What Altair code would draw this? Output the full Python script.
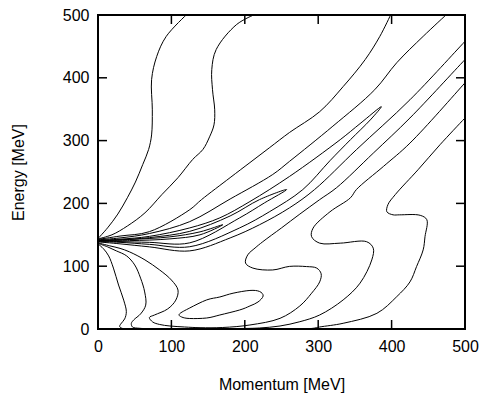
import altair as alt
import pandas as pd

TICKS = [0, 100, 200, 300, 400, 500]

# Contour lines: (momentum [MeV], energy [MeV])
U1 = [(0, 144), (13, 161), (27, 183), (40, 209), (51, 234), (61, 262), (69, 286),
      (73, 309), (74, 349), (73, 397), (80, 434), (93, 466), (121, 501)]
U2 = [(0, 143.5), (19, 150), (40, 164), (64, 185), (87, 214), (109, 241), (129, 270),
      (143, 286), (152, 306), (158, 325), (159, 349), (156, 381), (155, 413), (161, 445),
      (189, 485), (214, 501)]
U3 = [(0, 142.7), (30, 148), (70, 155), (125, 190), (141, 206), (180, 241), (207, 265),
      (234, 289), (261, 313), (302, 346), (334, 386), (364, 429), (384, 466), (399, 501)]
U4 = [(0, 142), (30, 145), (70, 152), (125, 171), (180, 207), (238, 246), (261, 267),
      (320, 323), (377, 381), (407, 424), (443, 466), (475, 501)]
L4 = [(0, 138.8), (30, 135.6), (70, 130.8), (125, 124.4), (180, 145), (220, 166),
      (261, 193), (295, 222), (352, 285.5), (425, 365), (500, 458), (510, 470)]
T5 = [(0, 141.2), (30, 143), (70, 147.5), (125, 161), (166, 177), (207, 203), (261, 243),
      (330, 301.5), (357, 327), (386, 354),
      (371, 333), (344, 301.5), (316, 268), (279, 222), (234, 187), (193, 161),
      (125, 131), (70, 134.8), (30, 138), (0, 139.2)]
T6 = [(0, 140.7), (30, 142), (70, 145.5), (125, 155.5), (180, 180), (220, 206), (257, 222),
      (227, 201), (193, 177), (125, 137.2), (70, 138), (30, 139.2), (0, 140.1)]
T7 = [(0, 140.4), (43, 142.5), (98, 146.7), (139, 154.7), (170, 166),
      (139, 150), (98, 143.5), (43, 140.7), (0, 140.4)]
S3 = [(0, 137.2), (16, 132.4), (30, 128.4), (43, 122.8), (64, 110), (84, 94), (100, 78),
      (109, 62), (106, 46), (95, 32), (77, 22.3), (70, 18.3), (74.5, 11.2), (84, 7.2),
      (98, 4.8), (118, 3.2), (139, 2.1), (170, 2.4), (207, 6.4), (248, 17), (275, 36.7),
      (291, 57), (302, 75), (304, 88), (298, 97), (284, 99.4), (261, 99.7), (238, 94),
      (211, 97), (201, 105), (204, 118), (214, 129), (224.5, 139), (250, 161), (275, 183),
      (302, 206), (325, 225), (375, 280), (425, 336), (500, 429), (510, 441)]
S2 = [(0, 136.4), (13, 130.8), (25, 124.4), (39, 116.4), (50, 102), (58, 81), (63.6, 59),
      (65, 38), (58, 24), (48.6, 14.4), (45.4, 8.8), (47, 3.2), (57, 1.1), (84, 0.6),
      (193, 0.8), (220, 1.6), (248, 4.8), (275, 11.6), (302, 22.3), (334, 46.3),
      (357, 73), (373, 110), (375, 128.7), (366, 139), (330, 136.7), (302, 136.7),
      (291, 147), (293, 160.6), (316, 186.6), (344, 209), (352, 222), (389, 259),
      (425, 296), (500, 392), (510, 405)]
S1 = [(0, 135.6), (7.6, 127.6), (14.5, 116.4), (21, 97), (28, 70), (35, 46), (38.6, 27.6),
      (36.3, 16), (31, 8), (29.5, 4), (33.6, 0.8), (50, 0.3), (275, 0.3), (293, 1.1),
      (302, 3.2), (334, 9.1), (380, 25), (407, 51.5), (425, 75), (434, 99.4), (443, 126),
      (445.5, 147), (448, 174), (439, 181), (411, 181.8), (402, 181.8), (393.6, 186.6),
      (395, 198), (405, 214), (436, 253.6), (466, 293.5), (500, 336), (510, 348)]
ELLIPSE = [(111, 24), (125, 33.5), (148, 46.3), (166, 51), (184, 57), (207, 61.4),
           (220, 59.8), (225, 52.6), (218, 43), (207, 36.7), (193, 30.3), (166, 22.3),
           (148, 17.5), (125, 16.7), (114, 19.1)]

CONTOURS = {"U1": U1, "U2": U2, "U3": U3, "U4": U4, "L4": L4, "T5": T5, "T6": T6,
            "T7": T7, "S3": S3, "S2": S2, "S1": S1}

rows = []
for name, pts in CONTOURS.items():
    for i, (p, e) in enumerate(pts):
        rows.append({"line": name, "i": i, "p": p, "E": e})
df = pd.DataFrame(rows)
ell = pd.DataFrame([{"i": i, "p": p, "E": e} for i, (p, e) in enumerate(ELLIPSE)])
ticks = pd.DataFrame({"p": TICKS, "E": TICKS})

W, H = 367, 314
FONT = "Liberation Sans"
xs = alt.Scale(domain=[0, 500], nice=False, zero=False)
ys = alt.Scale(domain=[0, 500], nice=False, zero=False)

AX_X = alt.Axis(
    values=TICKS, title="Momentum [MeV]", ticks=False, domain=False, grid=False,
    labelFont=FONT, labelFontSize=16, labelColor="black", labelPadding=9,
    labelFlush=False, titleFont=FONT, titleFontSize=16, titleFontWeight="normal",
    titleColor="black", titleY=55, titleBaseline="middle")
AX_Y = alt.Axis(
    values=TICKS, title="Energy [MeV]", ticks=False, domain=False, grid=False,
    labelFont=FONT, labelFontSize=16, labelColor="black", labelPadding=9,
    labelFlush=False, titleFont=FONT, titleFontSize=16, titleFontWeight="normal",
    titleColor="black", titleX=-80, titleBaseline="middle")

X = alt.X("p:Q", scale=xs, axis=AX_X)
Y = alt.Y("E:Q", scale=ys, axis=AX_Y)

lines = alt.Chart(df).mark_line(
    color="black", strokeWidth=1, interpolate="catmull-rom", clip=True
).encode(x=X, y=Y, detail="line:N", order="i:Q")

ellipse = alt.Chart(ell).mark_line(
    color="black", strokeWidth=1, interpolate="cardinal-closed", clip=True
).encode(x=X, y=Y, order="i:Q")

TL = 9
tick_style = dict(color="black", strokeWidth=1.5)
bottom = alt.Chart(ticks).mark_rule(**tick_style).encode(
    x=X, y=alt.value(H), y2=alt.value(H - TL))
top = alt.Chart(ticks).mark_rule(**tick_style).encode(
    x=X, y=alt.value(0), y2=alt.value(TL))
left = alt.Chart(ticks).mark_rule(**tick_style).encode(
    y=Y, x=alt.value(0), x2=alt.value(TL))
right = alt.Chart(ticks).mark_rule(**tick_style).encode(
    y=Y, x=alt.value(W), x2=alt.value(W - TL))

chart = alt.layer(lines, ellipse, bottom, top, left, right).properties(
    width=W, height=H,
    padding={"left": 98, "top": 15, "right": 20, "bottom": 72},
    autosize=alt.AutoSizeParams(type="none"),
    background="white",
).configure_view(stroke="black", strokeWidth=2)

chart.save("out.html", embed_options={"renderer": "svg", "actions": False})
